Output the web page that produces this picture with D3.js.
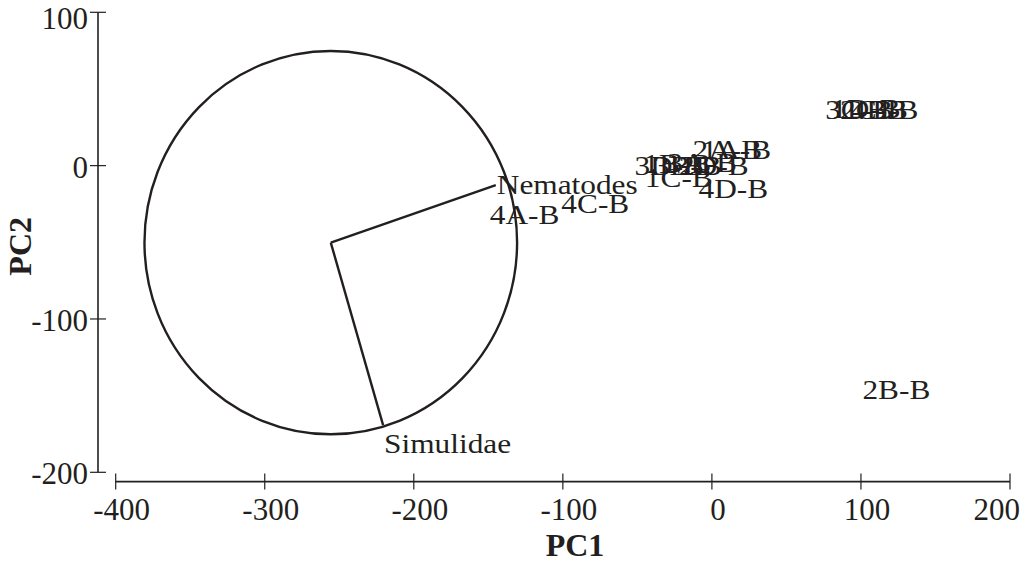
<!DOCTYPE html>
<html>
<head>
<meta charset="utf-8">
<script src="https://cdn.jsdelivr.net/npm/d3@7/dist/d3.min.js"></script>
<style>
  html, body { margin: 0; padding: 0; background: #fff; }
  svg { display: block; }
  text { font-family: "Liberation Serif", "Times New Roman", serif; fill: #231f20; }
</style>
</head>
<body>
<svg id="chart" width="1029" height="573"></svg>
<script>
// Site scores on the first two principal components
const siteLabels = ["3C-B", "1D-B", "2C-B", "4B-B",
                    "2A-B", "1A-B",
                    "3D-B", "1B-B", "3B-B", "3A-B", "2D-B",
                    "1C-B", "4D-B",
                    "4A-B", "4C-B", "2B-B"];
const sitePC1 = [76, 80, 86, 93,
                 -13, -7,
                 -52, -46, -39, -30, -22,
                 -45, -9,
                 -149, -101, 101];
const sitePC2 = [36, 37, 36, 36,
                 10, 10,
                 0, 1, 0, 2, 0,
                 -8, -15,
                 -32, -25, -146];

// Variable loadings (arrows drawn from the circle centre)
const varNames = ["Nematodes", "Simulidae"];
const varPC1 = [-145, -220.6];
const varPC2 = [-12.7, -169.2];

// Circle of equilibrium contribution
const circleCentre = [-255.7, -50.2];
const circleRadius = 125;

// Axis ticks
const xTicks = [-400, -300, -200, -100, 0, 100, 200];
const yTicks = [100, 0, -100, -200];

const W = 1029;
const svg = d3.select("#chart");
const x = d3.scaleLinear().domain([-400, 200]).range([115.7, 1010]);
const y = d3.scaleLinear().domain([-200, 100]).range([472.3, 12.3]);

const ink = "#231f20";
const axisY0 = 481.6;   // x-axis baseline
const axisX0 = 98;      // y-axis position

// X axis (offset below the plot)
const xAxis = svg.append("g");
xAxis.append("line")
  .attr("x1", x(-400)).attr("x2", x(200))
  .attr("y1", axisY0).attr("y2", axisY0)
  .attr("stroke", ink).attr("stroke-width", 1.6);
xAxis.selectAll("line.tick").data(xTicks).join("line")
  .attr("class", "tick")
  .attr("x1", d => x(d)).attr("x2", d => x(d))
  .attr("y1", axisY0 - 8).attr("y2", axisY0 + 8)
  .attr("stroke", ink).attr("stroke-width", 1.2);
xAxis.selectAll("text").data(xTicks).join("text")
  .attr("x", d => x(d) + 6).attr("y", axisY0 + 38)
  .attr("text-anchor", "middle")
  .style("font-size", "31px")
  .text(d => d)
  .each(function () {
    // keep the last label inside the page
    const b = this.getBBox();
    const over = b.x + b.width - (W - 9);
    if (over > 0) d3.select(this).attr("x", +this.getAttribute("x") - over);
  });

// Y axis (offset to the left)
const yAxis = svg.append("g");
yAxis.append("line")
  .attr("x1", axisX0).attr("x2", axisX0)
  .attr("y1", y(100)).attr("y2", y(-200))
  .attr("stroke", ink).attr("stroke-width", 1.6);
yAxis.selectAll("line.tick").data(yTicks).join("line")
  .attr("class", "tick")
  .attr("x1", axisX0 - 8).attr("x2", axisX0 + 8)
  .attr("y1", d => y(d)).attr("y2", d => y(d))
  .attr("stroke", ink).attr("stroke-width", 1.2);
yAxis.selectAll("text").data(yTicks).join("text")
  .attr("x", 88).attr("y", d => Math.max(y(d) + 12, 29))
  .attr("text-anchor", "end")
  .style("font-size", "31px")
  .text(d => d);

// Axis titles
svg.append("text")
  .attr("x", 575).attr("y", 556)
  .attr("text-anchor", "middle")
  .style("font-size", "32px").style("font-weight", "bold")
  .text("PC1");
svg.append("text")
  .attr("transform", `translate(31, ${y(-50) + 4}) rotate(-90)`)
  .attr("text-anchor", "middle")
  .style("font-size", "32px").style("font-weight", "bold")
  .text("PC2");

// Circle (in data units)
svg.append("ellipse")
  .attr("cx", x(circleCentre[0])).attr("cy", y(circleCentre[1]))
  .attr("rx", x(circleCentre[0] + circleRadius) - x(circleCentre[0]))
  .attr("ry", y(circleCentre[1]) - y(circleCentre[1] + circleRadius))
  .attr("fill", "none").attr("stroke", ink).attr("stroke-width", 2.4);

// Loading vectors and their labels
const vars = varNames.map((n, i) => ({ name: n, px: varPC1[i], py: varPC2[i] }));
svg.selectAll("line.vec").data(vars).join("line")
  .attr("class", "vec")
  .attr("x1", x(circleCentre[0])).attr("y1", y(circleCentre[1]))
  .attr("x2", d => x(d.px)).attr("y2", d => y(d.py))
  .attr("stroke", ink).attr("stroke-width", 2.4);
svg.selectAll("text.vec").data(vars).join("text")
  .attr("class", "vec")
  .attr("transform", d => {
    const dx = d.px - circleCentre[0], dy = d.py - circleCentre[1];
    const below = Math.abs(dy) > Math.abs(dx) && dy < 0;
    const ty = below ? y(d.py) + 27.5 : y(d.py) + 9;
    return `translate(${x(d.px) + 1}, ${ty}) scale(1.14, 1)`;
  })
  .style("font-size", "27.5px")
  .text(d => d.name);

// Site labels (text starts at the score position)
const sites = siteLabels.map((l, i) => ({ label: l, px: sitePC1[i], py: sitePC2[i] }));
svg.selectAll("text.site").data(sites).join("text")
  .attr("class", "site")
  .attr("transform", d => `translate(${x(d.px)}, ${y(d.py) + 9}) scale(1.14, 1)`)
  .style("font-size", "27.5px")
  .text(d => d.label);
</script>
</body>
</html>
